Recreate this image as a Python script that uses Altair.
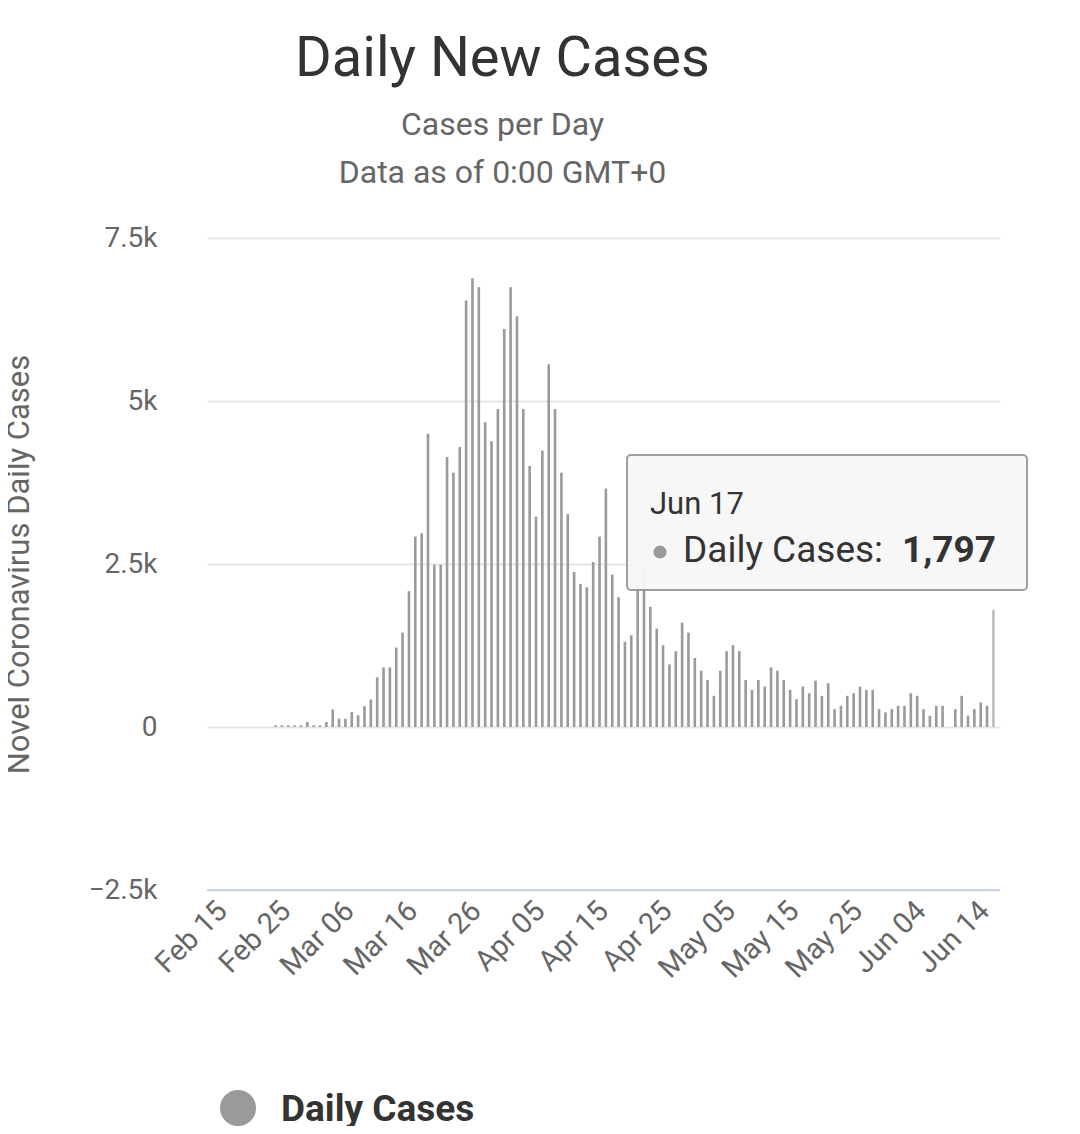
import pandas as pd
import altair as alt

# daily new cases, Feb 25 .. Jun 17 2020
cases = [
    25, 25, 25, 25, 25, 76, 25, 25, 76, 270, 127, 127, 229, 178, 320, 422, 762, 914, 914, 1219,
    1448, 2083, 2921, 2972, 4496, 2489, 2489, 4140, 3901, 4293, 6543, 6883, 6746, 4674, 4384, 4877,
    6106, 6746, 6299, 4877, 4003, 3226, 4242, 5563, 4877,
    3901, 3266, 2377, 2195, 2144, 2530, 2921, 3658, 2337, 1991, 1306, 1407, 2184, 2400, 1844, 1509,
    1255, 960, 1163, 1600, 1448,
    1057, 864, 721, 478, 864, 1163, 1255, 1163, 721, 569, 721, 620, 914, 864, 721, 569, 427, 620,
    518, 711, 478, 671, 274, 325, 478, 518, 620, 569, 569, 274, 224,
    274, 325, 325, 518, 478, 274, 173, 325, 325, 0, 274, 478, 173, 274, 376, 325, 1797,
]
dates = pd.date_range("2020-02-25", "2020-06-17")
tick_dates = ["2020-02-15", "2020-02-25", "2020-03-06", "2020-03-16", "2020-03-26", "2020-04-05",
              "2020-04-15", "2020-04-25", "2020-05-05", "2020-05-15", "2020-05-25", "2020-06-04",
              "2020-06-14"]
y_ticks = [-2500, 0, 2500, 5000, 7500]

df = pd.DataFrame({"date": dates, "cases": cases})
df["hover"] = df["date"] == df["date"].max()

W, H = 793, 652
grey = "#666666"

x = alt.X("date:T", title=None,
          scale=alt.Scale(domain=["2020-02-15T00:00:00", "2020-06-17T06:00:00"]),
          axis=alt.Axis(values=[pd.Timestamp(d).isoformat() for d in tick_dates], format="%b %d",
                        labelAngle=-45, labelAlign="right", labelBaseline="top", labelFontSize=29,
                        labelColor=grey, labelFont="Roboto", labelPadding=6, labelOverlap=False,
                        labelBound=False, labelFlush=False, grid=False, domain=False, ticks=False))
y = alt.Y("cases:Q", title="Novel Coronavirus Daily Cases",
          scale=alt.Scale(domain=[-2500, 7500], nice=False),
          axis=alt.Axis(values=y_ticks, labelExpr="datum.value == 0 ? '0' : format(datum.value / 1000, '~r') + 'k'",
                        labelFontSize=28, labelColor=grey, labelFont="Roboto", labelPadding=50,
                        titleFontSize=31, titleColor=grey, titleFont="Roboto", titleFontWeight="normal",
                        titleX=-172, gridColor="#e6e6e6", gridWidth=2, domain=False, ticks=False))

bars = alt.Chart(df).mark_bar(width=2.6).encode(
    x=x, y=y,
    color=alt.condition(alt.datum.hover, alt.value("#bdbdbd"), alt.value("#9a9a9a")),
)

bottom = alt.Chart(pd.DataFrame({"a": [0]})).mark_rule(color="#ccd6eb", strokeWidth=2).encode(
    y=alt.datum(-2500))

box = alt.Chart(pd.DataFrame({"a": [0]})).mark_rect(
    fill="#f7f7f7", stroke="#999999", strokeWidth=2, cornerRadius=4, opacity=0.95
).encode(x=alt.value(420), x2=alt.value(820), y=alt.value(217), y2=alt.value(352))

def label(txt, px, py, size, weight="normal", color="#333333"):
    return alt.Chart(pd.DataFrame({"t": [txt]})).mark_text(
        align="left", baseline="middle", fontSize=size, fontWeight=weight, color=color, font="Roboto"
    ).encode(x=alt.value(px), y=alt.value(py), text="t:N")

dot = alt.Chart(pd.DataFrame({"a": [0]})).mark_circle(color="#9a9a9a", size=170, opacity=1).encode(
    x=alt.value(453), y=alt.value(314))
legend_dot = alt.Chart(pd.DataFrame({"a": [0]})).mark_circle(color="#9a9a9a", size=1300, opacity=1).encode(
    x=alt.value(31), y=alt.value(870))

chart = alt.layer(
    bars, bottom, box,
    label("Jun 17", 443, 267, 31), dot,
    label("Daily Cases:", 476, 313, 37), label("1,797", 695, 313, 37, "bold"),
    legend_dot, label("Daily Cases", 74, 872, 37, "bold"),
).properties(
    width=W, height=H,
    autosize=alt.AutoSizeParams(type="none"),
    padding={"left": 199, "top": 230, "right": 64, "bottom": 236},
    title=alt.TitleParams("Daily New Cases", subtitle=["Cases per Day", "Data as of 0:00 GMT+0"],
                          anchor="middle", dx=-101, fontSize=56, font="Roboto", fontWeight="normal",
                          color="#333333", subtitleFontSize=32, subtitleColor=grey, subtitleFont="Roboto",
                          subtitleLineHeight=48, subtitlePadding=22, offset=34),
).configure_view(stroke=None)

chart.save("out.html", embed_options={"renderer": "svg", "actions": False})
